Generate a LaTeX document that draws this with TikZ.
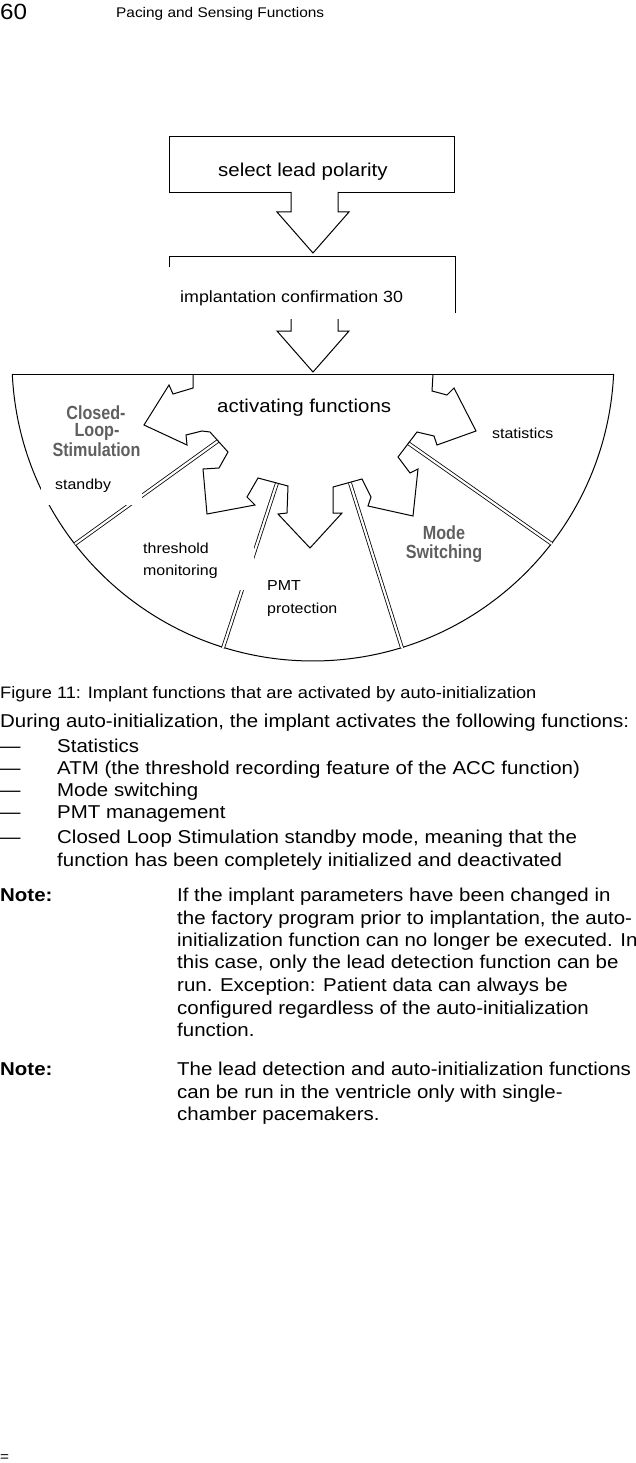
\documentclass[tikz,border=0pt]{standalone}
\usepackage{fontspec}
\usetikzlibrary{calc}
\setmainfont{Liberation Sans}[FakeStretch=1.1]
\newfontfamily\lblfont{Liberation Sans}[FakeStretch=0.85]
\definecolor{labelgray}{RGB}{95,95,95}
\tikzset{
  outline/.style={draw=black, line width=1pt, line join=miter},
  divider/.style={draw=black, double=white, double distance=2.2pt, line width=0.8pt},
  cover/.style={fill=white, draw=none},
  bodytext/.style={anchor=base west, inner sep=0pt, font=\fontsize{18.6}{22}\selectfont},
  caption/.style={anchor=base west, inner sep=0pt, font=\fontsize{16.6}{20}\selectfont},
  boxtext/.style={anchor=base west, inner sep=0pt, font=\fontsize{18.6}{22}\selectfont},
  lbl/.style={anchor=base west, inner sep=0pt, font=\fontsize{14.5}{17}\selectfont},
  graylbl/.style={anchor=base, inner sep=0pt, text=labelgray, font=\lblfont\bfseries\fontsize{19}{20}\selectfont},
}
\begin{document}
\begin{tikzpicture}[x=1pt, y=1pt, yscale=-1]
\useasboundingbox (0,0) rectangle (636,1463);

% ---------- header ----------
\node[anchor=base west, inner sep=0pt, font=\fontsize{22}{24}\selectfont] (pagenum) at (0,20) {60};
\node[anchor=base west, inner sep=0pt, font=\fontsize{14}{16}\selectfont] (header) at (116,18) {Pacing and Sensing Functions};

% ---------- box 1 ----------
\node[outline, rectangle, minimum width=285pt, minimum height=56pt, inner sep=0pt] (box1) at (311.5,165) {};
\node[boxtext] (t1) at (218,177) {select lead polarity};
% block arrow 1
\draw[outline, fill=white] (291,192) -- (291,212) -- (277,212) -- (313,253) -- (349,212) -- (338,212) -- (338,192);

% ---------- box 2 (lower part covered) ----------
\coordinate (b2nw) at (169,256);
\coordinate (b2ne) at (455,256);
\coordinate (b2sw) at (169,267);
\coordinate (b2se) at (455,313);
\draw[outline] (b2sw) -- (b2nw) -- (b2ne) -- (b2se);
\node[anchor=base west, inner sep=0pt, font=\fontsize{16.2}{19}\selectfont] (t2) at (180,302) {implantation confirmation 30};
% block arrow 2
\draw[outline, fill=white] (291,319) -- (291,331) -- (277,331) -- (313,372) -- (349,331) -- (338,331) -- (338,319);

% ---------- semicircle ----------
\draw[outline] (12.3,374) -- (613.7,374);
\draw[outline] (12.3,374) arc[start angle=177.33, end angle=2.67, radius=301];

% ---------- dividers ----------
\coordinate (d1a) at (218,441); \coordinate (d1b) at (75,544);
\coordinate (d2a) at (277,483); \coordinate (d2b) at (223,648);
\coordinate (d3a) at (350,483); \coordinate (d3b) at (402,648);
\coordinate (d4a) at (408,443); \coordinate (d4b) at (552,544);
\draw[divider] (d1a) -- (d1b);
\draw[divider] (d2a) -- (d2b);
\draw[divider] (d3a) -- (d3b);
\draw[divider] (d4a) -- (d4b);

% ---------- star of arrows ----------
\draw[outline] (193,374) -- (193,388) -- (173,394) -- (169,385) -- (144,425) -- (187,445)
  -- (186,435) -- (202,431) -- (210,432) -- (228,452) -- (219,468) -- (203,469)
  -- (207,514) -- (255,505) -- (247,497) -- (258,478) -- (288,486) -- (287,513)
  -- (278,514) -- (310,548) -- (342,513) -- (333,513) -- (333,487) -- (362,479)
  -- (371,497) -- (368,506) -- (413,516) -- (418,469) -- (410,473) -- (398,457)
  -- (417,432) -- (434,436) -- (437,445) -- (476,431) -- (454,388) -- (447,395)
  -- (432,391) -- (433,374);

% ---------- white label patches ----------
\fill[cover] (41,468) rectangle (142,505);
\fill[cover] (140,515) rectangle (254,590);

% ---------- diagram labels ----------
\node[boxtext] (act) at (217,412) {activating functions};
\node[lbl] (stat) at (492,438) {statistics};
\node[lbl] (stby) at (55,489) {standby};
\node[lbl] (thr1) at (143,553) {threshold};
\node[lbl] (thr2) at (143,575) {monitoring};
\node[lbl] (pmt1) at (267,590) {PMT};
\node[lbl] (pmt2) at (267,613) {protection};
\node[graylbl] (cls1) at (96,419) {Closed-};
\node[graylbl] (cls2) at (97,436) {Loop-};
\node[graylbl] (cls3) at (96.5,456) {Stimulation};
\node[graylbl] (mod1) at (444,539) {Mode};
\node[graylbl] (mod2) at (444,558) {Switching};

% ---------- caption and body ----------
\node[caption] (fig) at (0,698) {Figure 11: Implant functions that are activated by auto-initialization};
\node[bodytext] (intro) at (0,727) {During auto-initialization, the implant activates the following functions:};
\node[bodytext] (dsh1) at (0,752) {—};
\node[bodytext] (it1) at (57,752) {Statistics};
\node[bodytext] (dsh2) at (0,774) {—};
\node[bodytext] (it2) at (57,774) {ATM (the threshold recording feature of the ACC function)};
\node[bodytext] (dsh3) at (0,796) {—};
\node[bodytext] (it3) at (57,796) {Mode switching};
\node[bodytext] (dsh4) at (0,818) {—};
\node[bodytext] (it4) at (57,818) {PMT management};
\node[bodytext] (dsh5) at (0,843) {—};
\node[bodytext] (it5) at (57,843) {Closed Loop Stimulation standby mode, meaning that the};
\node[bodytext] (it5b) at (57,866) {function has been completely initialized and deactivated};

\node[bodytext, font=\bfseries\fontsize{18.6}{22}\selectfont] (note1) at (0,901) {Note:};
\node[bodytext] (n1a) at (177,901) {If the implant parameters have been changed in};
\node[bodytext] (n1b) at (177,924) {the factory program prior to implantation, the auto-};
\node[bodytext] (n1c) at (177,946) {initialization function can no longer be executed. In};
\node[bodytext] (n1d) at (177,968) {this case, only the lead detection function can be};
\node[bodytext] (n1e) at (177,991) {run. Exception: Patient data can always be};
\node[bodytext] (n1f) at (177,1014) {configured regardless of the auto-initialization};
\node[bodytext] (n1g) at (177,1036) {function.};

\node[bodytext, font=\bfseries\fontsize{18.6}{22}\selectfont] (note2) at (0,1075) {Note:};
\node[bodytext] (n2a) at (177,1075) {The lead detection and auto-initialization functions};
\node[bodytext] (n2b) at (177,1098) {can be run in the ventricle only with single-};
\node[bodytext] (n2c) at (177,1120) {chamber pacemakers.};

\node[anchor=base west, inner sep=0pt, font=\fontsize{14}{16}\selectfont] (eq) at (0,1461) {=};
\end{tikzpicture}
\end{document}
